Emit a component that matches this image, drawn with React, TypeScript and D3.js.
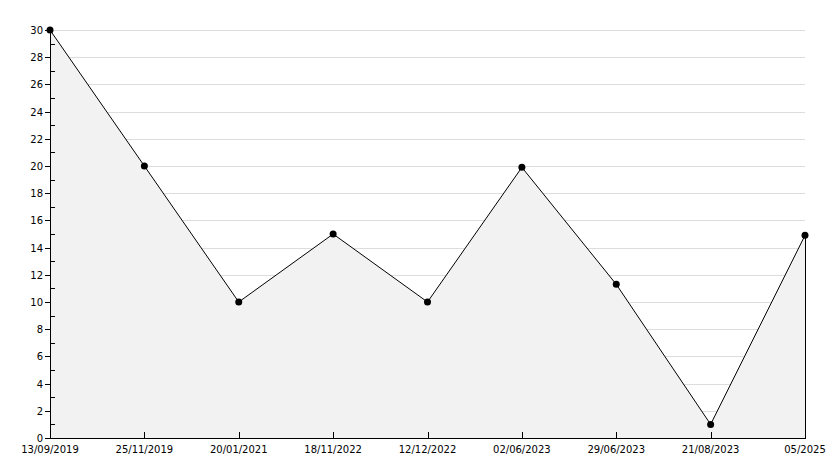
import React from "react";
import * as d3 from "d3";

const categories = ["13/09/2019", "25/11/2019", "20/01/2021", "18/11/2022", "12/12/2022", "02/06/2023", "29/06/2023", "21/08/2023", "05/2025"];
const values = [30, 20, 10, 15, 10, 19.9, 11.3, 1, 14.9];
const yTicks = d3.range(0, 31, 2);
const yMinor = d3.range(1, 30, 2);

export default function App() {
  const W = 834, H = 468;
  const left = 50, right = 805, top = 30, bottom = 438;
  const x = d3.scalePoint<string>().domain(categories).range([left, right]);
  const y = d3.scaleLinear().domain([0, 30]).range([bottom, top]);
  const pts: [number, number][] = categories.map((c, i) => [x(c)!, y(values[i])]);
  const line = d3.line()(pts)!;
  const area = d3.area<[number, number]>().x(d => d[0]).y0(bottom).y1(d => d[1])(pts)!;
  const font = "DejaVu Sans";
  return (
    <svg width={W} height={H} style={{ position: "absolute", left: 0, top: 0, background: "#fff" }} shapeRendering="crispEdges">
      <rect x={0} y={0} width={W} height={H} fill="#fff" />
      {yTicks.filter(t => t > 0).map(t => (
        <line key={t} x1={left} x2={right} y1={Math.round(y(t)) + 0.5} y2={Math.round(y(t)) + 0.5} stroke="#dddddd" />
      ))}
      <path d={area} fill="#f2f2f2" />
      <line x1={right + 0.5} x2={right + 0.5} y1={y(values[values.length - 1])} y2={bottom} stroke="#000" />
      <path d={line} fill="none" stroke="#000" shapeRendering="auto" />
      <line x1={left + 0.5} x2={left + 0.5} y1={top} y2={bottom + 0.5} stroke="#000" />
      <line x1={left} x2={right + 1} y1={bottom + 0.5} y2={bottom + 0.5} stroke="#000" />
      {yTicks.map(t => (
        <g key={t}>
          <line x1={left - 5} x2={left} y1={Math.round(y(t)) + 0.5} y2={Math.round(y(t)) + 0.5} stroke="#000" />
          <text x={43} y={y(t) + 4} textAnchor="end" fontFamily={font} fontSize={10} fill="#000">{t}</text>
        </g>
      ))}
      {yMinor.map(t => (
        <line key={t} x1={left} x2={left + 5} y1={Math.round(y(t)) + 0.5} y2={Math.round(y(t)) + 0.5} stroke="#000" />
      ))}
      {categories.map(c => (
        <g key={c}>
          <line x1={Math.round(x(c)!) + 0.5} x2={Math.round(x(c)!) + 0.5} y1={bottom - 6} y2={bottom} stroke="#000" />
          <text x={x(c)!} y={bottom + 15} textAnchor="middle" fontFamily={font} fontSize={10} fill="#000">{c}</text>
        </g>
      ))}
      {pts.map((p, i) => (
        <circle key={i} cx={p[0]} cy={p[1]} r={3.5} fill="#000" shapeRendering="auto" />
      ))}
    </svg>
  );
}
